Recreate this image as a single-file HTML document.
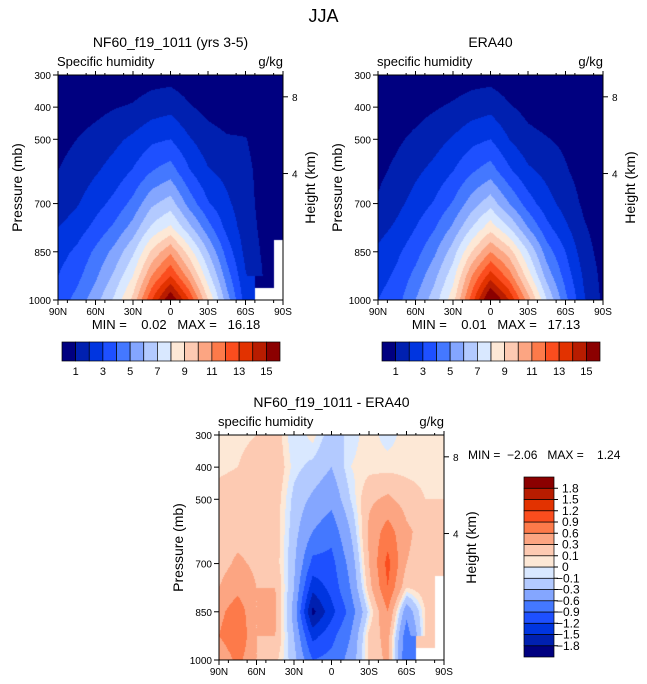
<!DOCTYPE html>
<html><head><meta charset="utf-8">
<style>
body{margin:0;background:#fff;width:647px;height:684px;overflow:hidden;position:relative;font-family:"Liberation Sans",sans-serif;color:#000}
.t{position:absolute;white-space:nowrap;font-size:12px;line-height:1}
canvas{position:absolute}
svg{position:absolute;left:0;top:0}
</style></head><body>
<div class="t" style="left:0;width:647px;text-align:center;top:7px;font-size:18px">JJA</div>
<canvas id="c1" width="225" height="225" style="left:58px;top:75px"></canvas>
<canvas id="c2" width="225" height="225" style="left:378px;top:75px"></canvas>
<canvas id="c3" width="225" height="225" style="left:219px;top:435px"></canvas>
<svg id="ov" width="647" height="684" xml:space="preserve"></svg>
<script>
// ---- data ----
const lats = [90,75,60,45,30,15,0,-15,-30,-45,-60,-75,-90];
const levels = [1000,925,850,775,700,600,500,400,300];
const N = NaN;
const modelQ = [
 [3.5,4.3,5.6,7.2,9.3,13,16,13,9,5.5,2.5,N,N],
 [3.0,3.7,4.8,6.2,8,11,13,10.5,7.4,4.5,2.1,0.9,N],
 [2.6,3.2,4.2,5.3,6.8,9.2,10.8,8.5,6,3.6,1.7,0.8,N],
 [2.0,2.5,3.3,4.2,5.4,7.2,8.2,6.3,4.4,2.7,1.5,0.7,0.5],
 [1.4,1.9,2.6,3.3,4.3,5.8,6.5,4.6,3.1,2.2,1.4,0.6,0.4],
 [1.0,1.4,1.9,2.4,3.1,4.0,4.5,3.1,2.1,1.7,1.3,0.55,0.4],
 [0.7,1.0,1.35,1.75,2.2,2.8,3.0,2.1,1.4,1.1,1.05,0.45,0.3],
 [0.35,0.5,0.7,0.95,1.1,1.5,1.7,1.1,0.7,0.5,0.4,0.2,0.1],
 [0.1,0.15,0.2,0.3,0.4,0.55,0.6,0.35,0.2,0.15,0.1,0.1,0.1]
];
const eraQ = [
 [3,3.6,5,6.5,8.6,12.5,16.5,14,10.5,7,4.3,2.1,0.8],
 [2.6,3.2,4.3,5.7,7.6,11,13.5,11.5,8.5,5.6,3.6,1.8,0.7],
 [2.2,2.8,3.6,4.8,6.5,9,11,9.5,7,4.5,3,1.4,0.6],
 [1.6,2.2,3,3.9,5.2,7,8.6,7,5,3.3,2.2,1.1,0.5],
 [1.1,1.7,2.4,3.1,4.1,5.5,6.6,5,3.5,2.4,1.6,0.8,0.4],
 [0.8,1.2,1.8,2.3,3,3.9,4.5,3.2,2.2,1.7,1.1,0.6,0.35],
 [0.6,0.85,1.2,1.6,2.1,2.7,3,2,1.3,1.05,0.8,0.4,0.3],
 [0.3,0.45,0.65,0.9,1.15,1.5,1.7,1.1,0.7,0.5,0.35,0.2,0.1],
 [0.1,0.15,0.2,0.3,0.4,0.55,0.6,0.35,0.2,0.15,0.1,0.1,0.1]
];
const diffQ = [
 [0.3,0.7,0.3,0.15,-0.2,-0.9,-0.8,-0.5,0.15,0.35,-0.9,N,N],
 [0.6,0.9,0.3,0.3,-0.3,-1.3,-1.0,-0.6,0.15,0.4,-0.8,0.1,N],
 [0.5,0.8,0.3,0.35,-0.4,-1.9,-1.3,-0.8,-0.05,0.6,-0.5,0.1,N],
 [0.3,0.5,0.3,0.3,-0.3,-1.4,-1.1,-0.6,0.2,0.9,0.1,0.2,N],
 [0.2,0.35,0.25,0.2,-0.25,-1.0,-1.0,-0.5,0.3,1.0,0.3,0.2,0.1],
 [0.2,0.2,0.2,0.2,-0.2,-0.6,-0.8,-0.3,0.35,0.75,0.35,0.2,0.1],
 [0.2,0.25,0.1,0.2,-0.15,-0.35,-0.5,-0.1,0.25,0.35,0.2,0.1,0.1],
 [0.05,0.1,0.2,0.25,-0.05,-0.15,-0.3,0.0,0.05,0.05,0.05,0.05,0.05],
 [0.05,0.05,0.1,0.2,-0.1,0.05,-0.2,-0.05,0.05,-0.05,0.05,0.05,0.05]
];
const qBounds = [1,2,3,4,5,6,7,8,9,10,11,12,13,14,15];
const qLabels = ["1","3","5","7","9","11","13","15"];
const dBounds = [-1.8,-1.5,-1.2,-0.9,-0.6,-0.3,-0.1,0,0.1,0.3,0.6,0.9,1.2,1.5,1.8];
const dLabels = ["−1.8","−1.5","−1.2","−0.9","−0.6","−0.3","−0.1","0","0.1","0.3","0.6","0.9","1.2","1.5","1.8"];
const palette = ["#000080","#0020b0","#0035e0","#1e50ff","#4478ff","#84a6ff","#b3caff","#d9e8ff","#fde8d6","#fdcab2","#fca582","#fd7a4a","#fb4d1e","#e23200","#b81c00","#8b0000"];
const latTicks = ["90N","60N","30N","0","30S","60S","90S"];
const pTicks = [1000,850,700,500,400,300];
const hTicks = [4,8];
// ---- rendering ----
function hex(h){return [parseInt(h.substr(1,2),16),parseInt(h.substr(3,2),16),parseInt(h.substr(5,2),16)];}
const palRGB = palette.map(hex);
function yOfP(p,y0,h){return y0+(p-300)/700*h;}
function sample(grid,lat,p){
  const fi=(90-lat)/15; let i=Math.min(Math.floor(fi),lats.length-2); const tx=fi-i;
  let j=0; while(j<levels.length-2 && p<levels[j+1]) j++;
  const ty=(levels[j]-p)/(levels[j]-levels[j+1]);
  const a=grid[j][i],b=grid[j][i+1],c=grid[j+1][i],d=grid[j+1][i+1];
  if([a,b,c,d].some(isNaN)){
    const ni=tx<0.5?i:i+1, nj=ty<0.5?j:j+1; return grid[nj][ni];}
  return (a*(1-tx)+b*tx)*(1-ty)+(c*(1-tx)+d*tx)*ty;
}
function level(v,b){let k=0;while(k<b.length&&v>=b[k])k++;return k;}
function draw(id,grid,bounds){
  const cv=document.getElementById(id),ctx=cv.getContext('2d'),W=cv.width,H=cv.height;
  const img=ctx.createImageData(W,H);
  for(let y=0;y<H;y++)for(let x=0;x<W;x++){
    const lat=90-(x+0.5)/W*180,p=300+(y+0.5)/H*700;
    const v=sample(grid,lat,p); const o=(y*W+x)*4;
    if(isNaN(v)){img.data[o]=img.data[o+1]=img.data[o+2]=255;}
    else{const c=palRGB[level(v,bounds)];img.data[o]=c[0];img.data[o+1]=c[1];img.data[o+2]=c[2];}
    img.data[o+3]=255;
  }
  ctx.putImageData(img,0,0);
}
draw('c1',modelQ,qBounds);draw('c2',eraQ,qBounds);draw('c3',diffQ,dBounds);
const NS='http://www.w3.org/2000/svg',ov=document.getElementById('ov');
function el(t,a,txt){const e=document.createElementNS(NS,t);for(const k in a)e.setAttribute(k,a[k]);if(txt!==undefined)e.textContent=txt;ov.appendChild(e);return e;}
function txt(x,y,s,anchor,size,name,rot){const e=el('text',{x:x,y:y,'font-size':size||11,'text-anchor':anchor||'start','font-family':'Liberation Sans, sans-serif',fill:'#000'},s);
 e.style.whiteSpace='pre';
 if(rot)e.setAttribute('transform','rotate(-90 '+x+' '+y+')');
 
 return e;}
function axes(x0,y0,w,h,title,varname){
  const r=el('rect',{x:x0,y:y0,width:w,height:h,fill:'none',stroke:'#000','stroke-width':1});
  
  
  latTicks.forEach((l,i)=>{const x=x0+i*w/6;
    el('line',{x1:x,y1:y0+h,x2:x,y2:y0+h+5,stroke:'#000'});el('line',{x1:x,y1:y0,x2:x,y2:y0-4,stroke:'#000'});
    txt(x,y0+h+15,l,'middle',10,'x-tick-label');});
  for(let i=0;i<12;i++){const x=x0+(i+0.5)*w/12;el('line',{x1:x,y1:y0+h,x2:x,y2:y0+h+3,stroke:'#000'});el('line',{x1:x,y1:y0,x2:x,y2:y0-2,stroke:'#000'});}
  pTicks.forEach(p=>{const y=yOfP(p,y0,h);el('line',{x1:x0,y1:y,x2:x0-5,y2:y,stroke:'#000'});txt(x0-7,y+4,String(p),'end',10,'y-tick-label');});
  hTicks.forEach(k=>{const p=1000*Math.exp(-k/8);const y=yOfP(p,y0,h);el('line',{x1:x0+w,y1:y,x2:x0+w+5,y2:y,stroke:'#000'});txt(x0+w+9,y+4,String(k),'start',10,'height-tick-label');});
  txt(x0-36,y0+h/2,'Pressure (mb)','middle',14,'y-axis-title',true);
  txt(x0+w+32,y0+h/2,'Height (km)','middle',14,'right-axis-title',true);
  txt(x0+w/2,y0-28,title,'middle',14,'plot-title');
  txt(x0-1,y0-9,varname,'start',13,'variable-label');
  txt(x0+w,y0-9,'g/kg','end',13,'units-label');
}
axes(58,75,225,225,'NF60_f19_1011 (yrs 3-5)','Specific humidity');
axes(378,75,225,225,'ERA40','specific humidity');
axes(219,435,225,225,'NF60_f19_1011 - ERA40','specific humidity');
txt(176,329,'MIN =    0.02   MAX =   16.18','middle',13,'model-min-max');
txt(496,329,'MIN =    0.01   MAX =   17.13','middle',13,'era40-min-max');
txt(468,459,'MIN =  −2.06   MAX =    1.24','start',12,'diff-min-max');
function hbar(x0,y0,w,h){const bw=w/palette.length;
  palette.forEach((c,i)=>{const r=el('rect',{x:x0+i*bw,y:y0,width:bw,height:h,fill:c,stroke:'#000','stroke-width':0.7});
    
    });
  qLabels.forEach((l,i)=>{const k=qBounds.indexOf(+l);txt(x0+(k+1)*bw,y0+h+14,l,'middle',11,'colorbar-label');});
}
hbar(62,342,218,19);hbar(382,342,218,19);
(function(){const x0=524,y0=477,w=30,h=180,bh=h/palette.length;
  palette.forEach((c,i)=>{const r=el('rect',{x:x0,y:y0+h-(i+1)*bh,width:w,height:bh,fill:c,stroke:'#000','stroke-width':0.7});
    
    });
  dLabels.forEach((l,i)=>{const y=y0+h-(i+1)*bh;el('line',{x1:x0+w,y1:y,x2:x0+w+4,y2:y,stroke:'#000'});txt(x0+w+(l[0]=='−'?2:8),y+4,l,'start',12,'diff-colorbar-label');});
})();
</script>
</body></html>
